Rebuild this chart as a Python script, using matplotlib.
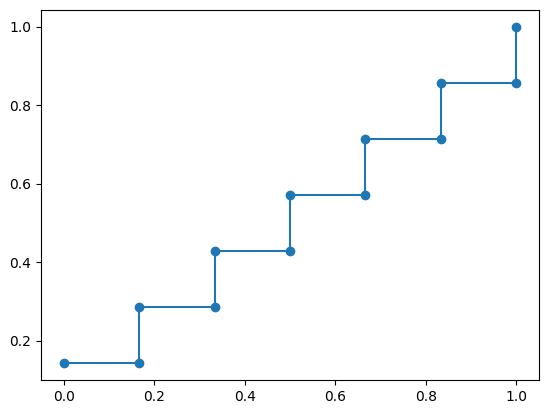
import matplotlib
matplotlib.use('Agg')
import matplotlib.pyplot as plt

# step points
x_vals = [0.0, 1/6, 1/6, 2/6, 2/6, 3/6, 3/6, 4/6, 4/6, 5/6, 5/6, 1.0, 1.0]
y_vals = [1/7, 1/7, 2/7, 2/7, 3/7, 3/7, 4/7, 4/7, 5/7, 5/7, 6/7, 6/7, 1.0]

W, H = 547, 413
fig = plt.figure(figsize=(W / 100, H / 100), dpi=100)
ax = fig.add_axes([41 / W, (H - 380) / H, 498 / W, 370 / H])

ax.plot(x_vals, y_vals, marker='o')

fig.savefig('out.png', dpi=100)
